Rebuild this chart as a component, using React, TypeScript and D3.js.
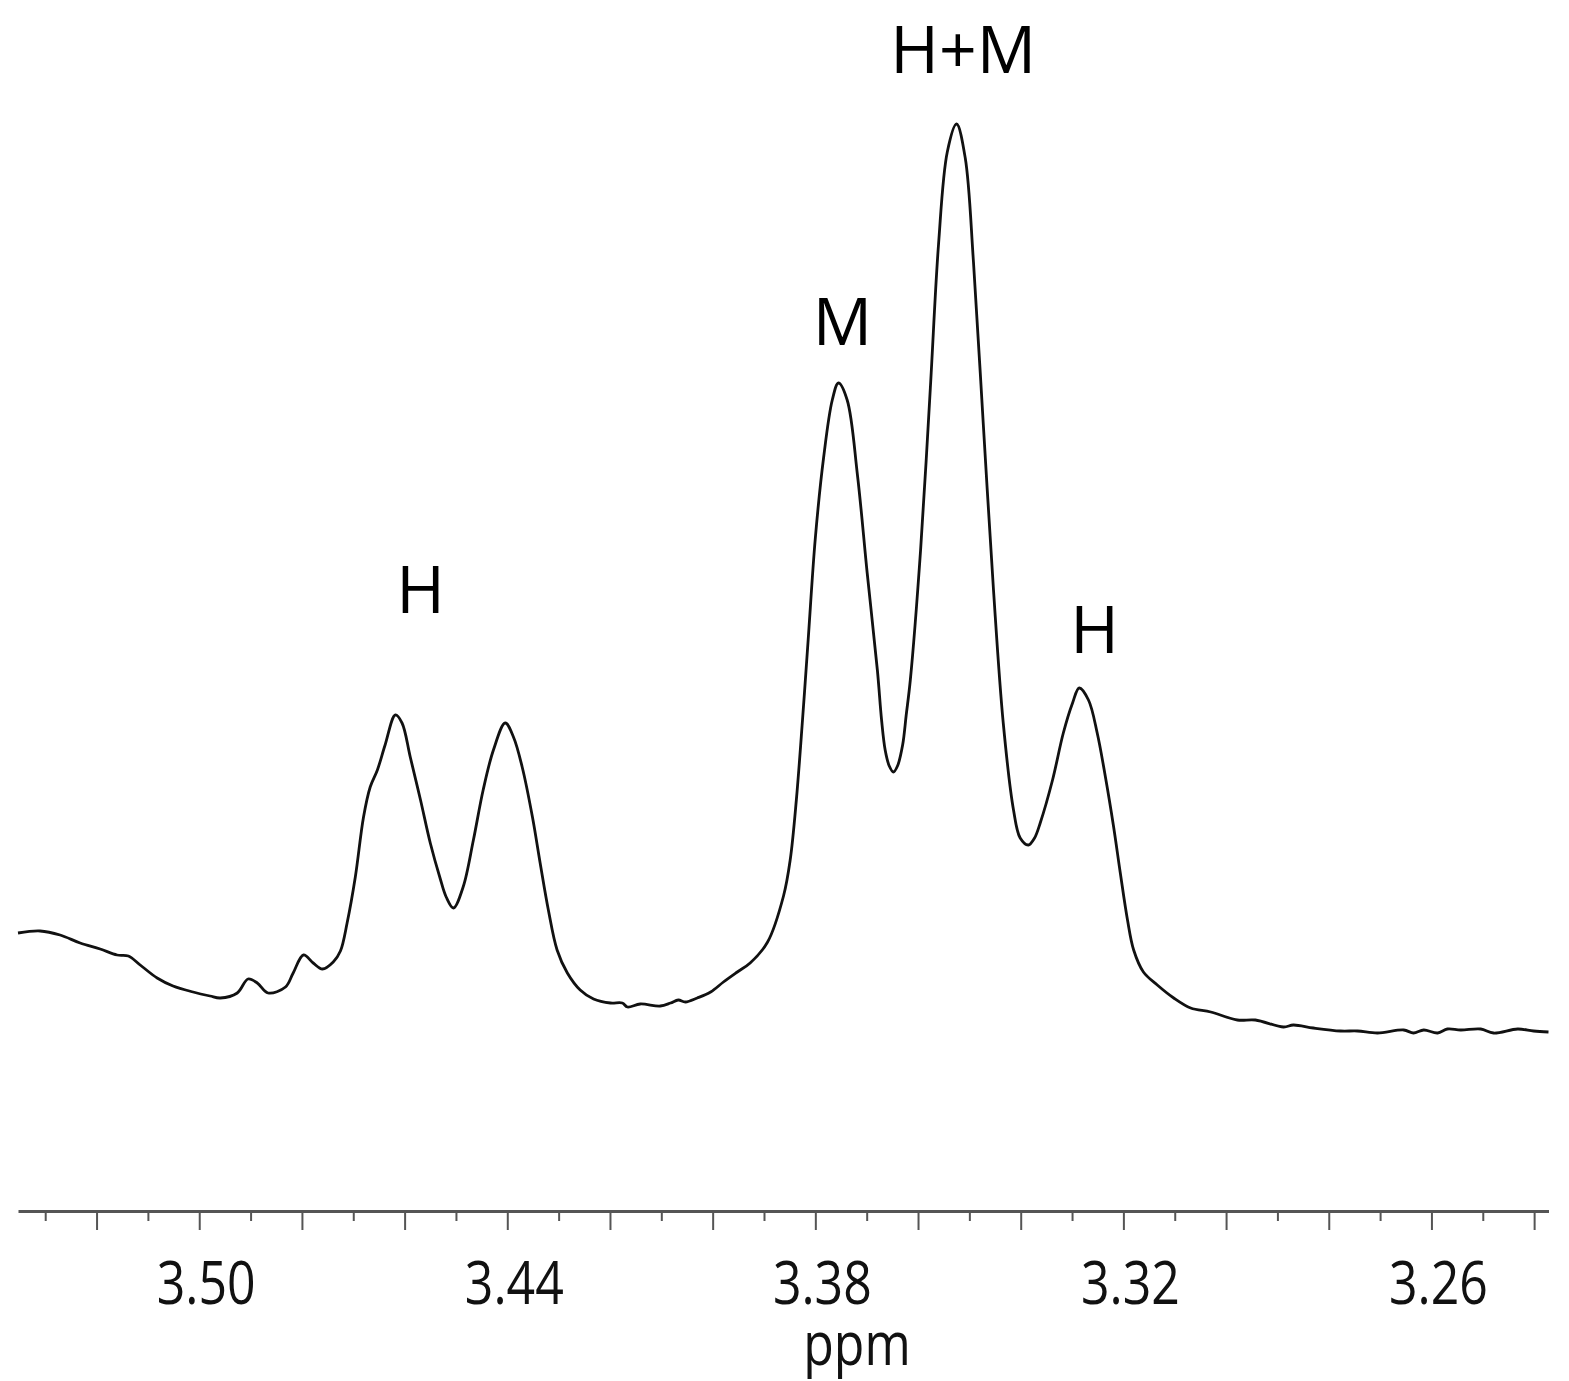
import React, { useEffect, useRef } from 'react'
import * as d3 from 'd3'

// chemical shift (ppm) of each traced point, left to right
const shifts = [
  3.5353, 3.5310, 3.5271, 3.5232, 3.5193, 3.5160, 3.5138, 3.5115, 3.5082, 3.5051,
  3.5012, 3.4979, 3.4959, 3.4926, 3.4905, 3.4887, 3.4866, 3.4832, 3.4817, 3.4797,
  3.4778, 3.4760, 3.4739, 3.4725, 3.4712, 3.4696, 3.4680, 3.4667, 3.4653, 3.4638,
  3.4618, 3.4605, 3.4589, 3.4569, 3.4550, 3.4531, 3.4519, 3.4505, 3.4486, 3.4466,
  3.4447, 3.4427, 3.4404, 3.4388, 3.4371, 3.4351, 3.4336, 3.4320, 3.4303, 3.4283,
  3.4258, 3.4232, 3.4199, 3.4176, 3.4166, 3.4141, 3.4102, 3.4082, 3.4067, 3.4053,
  3.4030, 3.4004, 3.3979, 3.3952, 3.3927, 3.3893, 3.3862, 3.3849, 3.3837, 3.3825,
  3.3814, 3.3800, 3.3784, 3.3767, 3.3755, 3.3738, 3.3718, 3.3699, 3.3679, 3.3671,
  3.3664, 3.3656, 3.3648, 3.3640, 3.3630, 3.3623, 3.3615, 3.3595, 3.3576, 3.3560,
  3.3543, 3.3525, 3.3508, 3.3492, 3.3473, 3.3453, 3.3434, 3.3414, 3.3401, 3.3385,
  3.3373, 3.3362, 3.3338, 3.3317, 3.3299, 3.3286, 3.3268, 3.3251, 3.3235, 3.3219,
  3.3206, 3.3192, 3.3180, 3.3161, 3.3134, 3.3102, 3.3069, 3.3030, 3.2978, 3.2943,
  3.2888, 3.2869, 3.2830, 3.2777, 3.2744, 3.2705, 3.2654, 3.2635, 3.2615, 3.2588,
  3.2569, 3.2543, 3.2504, 3.2479, 3.2432, 3.2401, 3.2372,
]

// intensity (arbitrary units) at each shift above
const intensities = [
  27.8, 28.0, 27.6, 26.8, 26.2, 25.6, 25.5, 24.6, 23.3, 22.5,
  21.9, 21.5, 21.3, 21.8, 23.2, 22.8, 21.8, 22.4, 23.8, 25.6,
  24.8, 24.2, 24.9, 26.0, 28.8, 33.4, 39.4, 42.4, 44.1, 46.6,
  49.6, 48.8, 45.4, 41.1, 36.8, 33.3, 31.4, 30.3, 32.4, 37.1,
  42.1, 46.1, 48.8, 47.4, 44.4, 39.4, 34.8, 30.1, 26.1, 23.8,
  22.1, 21.2, 20.8, 20.8, 20.4, 20.7, 20.5, 20.8, 21.1, 20.9,
  21.3, 21.9, 22.9, 23.9, 24.8, 26.9, 31.5, 35.1, 41.1, 49.1,
  57.1, 67.3, 75.3, 81.1, 82.8, 81.1, 73.6, 63.8, 54.0, 49.1,
  46.1, 44.5, 43.9, 44.5, 46.6, 49.6, 53.1, 66.1, 82.3, 96.7,
  105.9, 108.7, 105.3, 94.9, 78.8, 62.1, 48.8, 40.1, 37.3, 36.6,
  37.3, 38.8, 43.1, 47.8, 50.8, 52.3, 51.1, 47.8, 43.4, 38.4,
  33.8, 29.1, 26.1, 23.9, 22.6, 21.3, 20.3, 19.9, 19.1, 19.1,
  18.4, 18.6, 18.3, 18.0, 18.0, 17.8, 18.1, 17.8, 18.1, 17.8,
  18.2, 18.1, 18.2, 17.8, 18.2, 18.0, 17.9,
]

// peak annotations
const peakNames = ['H', 'M', 'H+M', 'H']
const peakShifts = [3.4569, 3.3747, 3.3512, 3.3256]
const peakLabelLevels = [59.8, 86.6, 113.8, 55.8]

// axis ticks
const majorTicks = [3.52, 3.50, 3.48, 3.46, 3.44, 3.42, 3.40, 3.38, 3.36, 3.34, 3.32, 3.30, 3.28, 3.26, 3.24]
const minorTicks = [3.53, 3.51, 3.49, 3.47, 3.45, 3.43, 3.41, 3.39, 3.37, 3.35, 3.33, 3.31, 3.29, 3.27, 3.25]
const tickLabels = ['3.50', '3.44', '3.38', '3.32', '3.26']

function Spectrum() {
  const ref = useRef<SVGSVGElement>(null)

  useEffect(() => {
    const width = 1569
    const height = 1381
    const axisY = 1211

    const svg = d3.select(ref.current)
    svg.selectAll('*').remove()

    const x = d3.scaleLinear()
      .domain([3.5353, 3.2372])
      .range([18, 1548.5])

    const y = d3.scaleLinear()
      .domain([0, 120])
      .range([axisY, axisY - 1200])

    const data = shifts.map((s, i) => ({ ppm: s, value: intensities[i] }))

    const line = d3.line<{ ppm: number; value: number }>()
      .x(d => x(d.ppm))
      .y(d => y(d.value))
      .curve(d3.curveCatmullRom.alpha(0.5))

    svg.append('path')
      .datum(data)
      .attr('d', line)
      .attr('fill', 'none')
      .attr('stroke', '#111')
      .attr('stroke-width', 2.8)
      .attr('stroke-linejoin', 'round')

    // long ticks + the axis line
    const major = svg.append('g')
      .attr('transform', 'translate(0,' + axisY + ')')
      .call(d3.axisBottom(x).tickValues(majorTicks).tickSize(19).tickSizeOuter(0).tickFormat(() => ''))
    major.select('.domain').attr('stroke', '#555').attr('stroke-width', 3)
    major.selectAll('.tick line').attr('stroke', '#555').attr('stroke-width', 2)

    // short ticks
    const minor = svg.append('g')
      .attr('transform', 'translate(0,' + axisY + ')')
      .call(d3.axisBottom(x).tickValues(minorTicks).tickSize(10).tickSizeOuter(0).tickFormat(() => ''))
    minor.select('.domain').remove()
    minor.selectAll('.tick line').attr('stroke', '#555').attr('stroke-width', 2)

    // tick labels, narrow face
    svg.append('g')
      .selectAll('text')
      .data(tickLabels)
      .enter()
      .append('text')
      .attr('transform', d => 'translate(' + (x(+d) + 7) + ',' + (axisY + 93) + ') scale(0.82,1)')
      .attr('text-anchor', 'middle')
      .style('font-family', '"Open Sans", sans-serif')
      .style('font-size', '61px')
      .attr('fill', '#111')
      .text(d => d)

    svg.append('text')
      .attr('transform', 'translate(857,' + (axisY + 154) + ') scale(0.82,1)')
      .attr('text-anchor', 'middle')
      .style('font-family', '"Open Sans", sans-serif')
      .style('font-size', '61px')
      .attr('fill', '#111')
      .text('ppm')

    // peak labels
    svg.append('g')
      .selectAll('text')
      .data(peakNames)
      .enter()
      .append('text')
      .attr('x', (d, i) => x(peakShifts[i]))
      .attr('y', (d, i) => y(peakLabelLevels[i]))
      .attr('text-anchor', 'middle')
      .style('font-family', '"Open Sans", sans-serif')
      .style('font-size', '66px')
      .attr('fill', '#000')
      .text(d => d)

    svg.attr('width', width).attr('height', height)
  }, [])

  return (
    <svg
      ref={ref}
      width={1569}
      height={1381}
      style={{ position: 'absolute', left: 0, top: 0, background: '#fff' }}
    />
  )
}

export default function App() {
  return <Spectrum />
}
